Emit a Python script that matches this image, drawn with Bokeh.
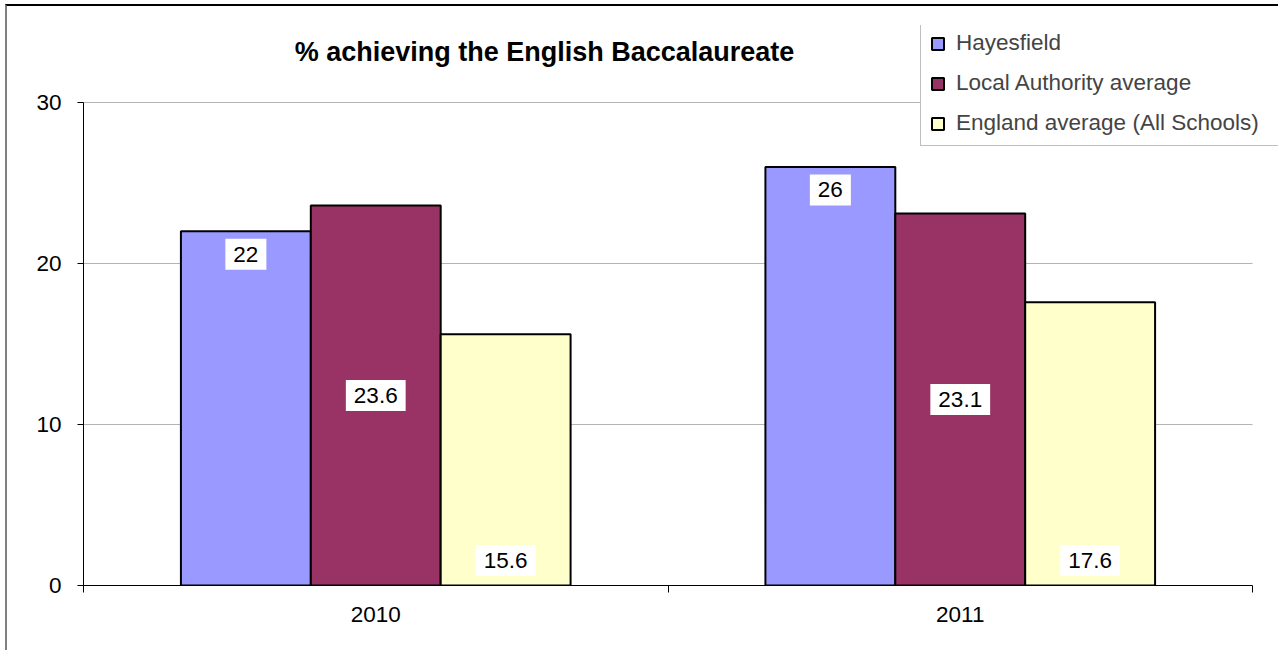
from bokeh.plotting import figure
from bokeh.models import Range1d, FixedTicker, Label, Legend, LegendItem
from bokeh.embed import file_html
from bokeh.resources import INLINE

# ---- data ----
years = ["2010", "2011"]
series = ["Hayesfield", "Local Authority average", "England average (All Schools)"]
hayesfield = [22, 26]
local_authority = [23.6, 23.1]
england = [15.6, 17.6]
y_ticks = [0, 10, 20, 30]
title_text = "% achieving the English Baccalaureate"

colors = ["#9999FF", "#993366", "#FFFFCC"]
FONT = "Liberation Sans"
FS = "22.5px"

# layout constants (pixels)
PX_CAT = 584.5          # width of one category
PX_UNIT = 16.1          # pixels per y unit
EXTRA_RIGHT = 26        # frame extends past plot area (legend room)
EXTRA_TOP = 77          # frame extends above plot area (title/legend room)

p = figure(width=1273, height=646,
           x_range=Range1d(0, len(years) + EXTRA_RIGHT / PX_CAT),
           y_range=Range1d(y_ticks[0], y_ticks[-1] + EXTRA_TOP / PX_UNIT),
           output_backend="svg", toolbar_location=None,
           min_border_left=76, min_border_right=2, min_border_top=19, min_border_bottom=67)
p.title.text = ""

# grid lines
p.xgrid.grid_line_color = None
p.ygrid.grid_line_color = None
p.segment(x0=[0] * len(y_ticks), x1=[len(years)] * len(y_ticks), y0=y_ticks, y1=y_ticks,
          line_color="#b4b4b4", line_width=1)

values = [hayesfield, local_authority, england]
bw = 2.0 / 9.0
offsets = [-bw, 0.0, bw]
renderers = []
for vals, off, col in zip(values, offsets, colors):
    xs = [i + 0.5 + off for i in range(len(years))]
    r = p.vbar(x=xs, top=vals, width=bw, fill_color=col, line_color="black", line_width=2)
    renderers.append(r)

# data labels
for k, (vals, off) in enumerate(zip(values, offsets)):
    for i, v in enumerate(vals):
        if k == 0:
            y, yo = v, -23
        elif k == 1:
            y, yo = v / 2.0, 0
        else:
            y, yo = 0, 25
        p.add_layout(Label(x=i + 0.5 + off, y=y, y_offset=yo, text=f"{v:g}",
                           text_align="center", text_baseline="middle",
                           text_font=FONT, text_font_size=FS, text_color="black",
                           background_fill_color="white", padding=8))

# title as label
p.add_layout(Label(x=461, y=534, x_units="screen", y_units="screen", text=title_text,
                   text_align="center", text_baseline="middle",
                   text_font=FONT, text_font_size="27px", text_font_style="bold",
                   text_color="black"))

# legend
legend = Legend(items=[LegendItem(label=s, renderers=[r]) for s, r in zip(series, renderers)],
                location=(837, 439), orientation="vertical",
                border_line_color="#808080", border_line_width=1.5,
                background_fill_color="white", background_fill_alpha=1.0,
                padding=9, spacing=14, margin=0,
                glyph_width=15, glyph_height=15, label_standoff=11,
                label_text_font=FONT, label_text_font_size=FS, label_height=25,
                label_width=313)
p.add_layout(legend)

# axes
p.xaxis.ticker = FixedTicker(ticks=[i + 0.5 for i in range(len(years))],
                             minor_ticks=list(range(len(years) + 1)))
p.xaxis.major_label_overrides = {i + 0.5: y for i, y in enumerate(years)}
p.xaxis.bounds = (0, len(years))
p.xaxis.major_tick_line_color = None
p.xaxis.major_tick_out = 0
p.xaxis.major_tick_in = 0
p.xaxis.minor_tick_in = 0
p.xaxis.minor_tick_out = 7
p.xaxis.minor_tick_line_color = "black"
p.xaxis.major_label_standoff = 14
p.xaxis.axis_line_color = "black"

p.yaxis.ticker = FixedTicker(ticks=y_ticks)
p.yaxis.bounds = (y_ticks[0], y_ticks[-1])
p.yaxis.minor_tick_line_color = None
p.yaxis.major_tick_in = 0
p.yaxis.major_tick_out = 6
p.yaxis.major_tick_line_color = "black"
p.yaxis.major_label_standoff = 16
p.yaxis.axis_line_color = "black"

for ax in (p.xaxis, p.yaxis):
    ax.major_label_text_font = FONT
    ax.major_label_text_font_size = FS
    ax.major_label_text_color = "black"

p.outline_line_color = None
p.background_fill_color = "white"
p.border_fill_color = "white"

p.styles = {"margin-left": "5px", "margin-top": "4px",
            "border-left": "2px solid #808080", "border-top": "2px solid black"}

open("out.html", "w").write(file_html(p, INLINE))
